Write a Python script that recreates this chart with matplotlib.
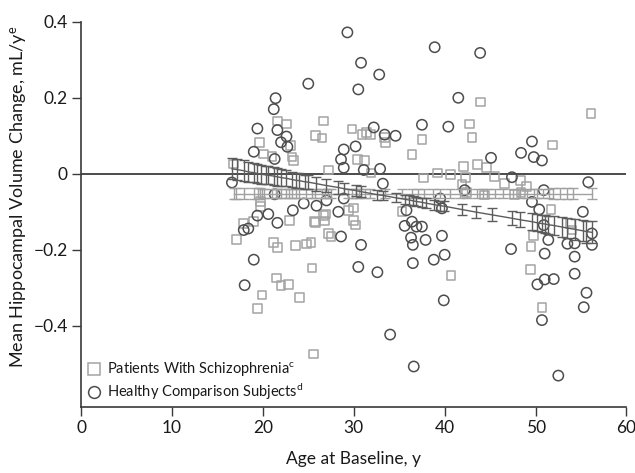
import matplotlib
matplotlib.use('Agg')
import matplotlib.pyplot as plt
from matplotlib.lines import Line2D

plt.rcParams['font.family'] = ['Lato', 'DejaVu Sans']
plt.rcParams['mathtext.fontset'] = 'custom'
plt.rcParams['mathtext.rm'] = 'Lato'
plt.rcParams['mathtext.it'] = 'Lato:italic'

# patients with schizophrenia (squares)
pat_age = [26.7, 21.6, 22.6, 29.8, 25.8, 26.5, 30.9, 31.4, 31.8, 33.4, 33.5, 19.6, 23.0,
           20.1, 23.2, 23.4, 21.0, 36.4, 30.4, 31.2, 27.2, 31.9, 16.8, 37.5,
           43.9, 56.1, 42.7, 43.0, 51.9, 42.1, 43.6, 44.6, 39.2, 40.6, 37.7, 42.3, 45.5,
           46.6, 48.3, 49.0, 41.9, 44.4, 42.4, 47.7, 48.4, 35.3, 51.7,
           17.1, 17.9, 19.0, 22.9, 25.7, 26.8, 26.9, 27.2, 27.5, 29.4, 30.0, 30.0, 30.2,
           21.2, 21.6, 23.6, 24.8, 25.3, 25.4, 21.5, 22.0, 22.8, 19.9, 24.0, 19.4, 25.6,
           19.7, 19.7, 26.7, 25.8,
           40.7, 49.4, 49.5, 49.8, 50.7, 53.8, 54.0]
pat_change = [0.139, 0.139, 0.131, 0.118, 0.100, 0.094, 0.103, 0.109, 0.104, 0.096, 0.083, 0.083, 0.074,
              0.052, 0.044, 0.035, 0.045, 0.050, 0.037, 0.035, 0.010, 0.002, 0.026, 0.090,
              0.189, 0.159, 0.131, 0.096, 0.076, 0.020, 0.025, 0.016, 0.002, -0.002, -0.011, -0.009, -0.007,
              -0.026, -0.017, -0.034, -0.029, -0.056, -0.050, -0.055, -0.050, -0.100, -0.093,
              -0.173, -0.130, -0.125, -0.123, -0.126, -0.124, -0.106, -0.158, -0.165, -0.096, -0.090, -0.122, -0.135,
              -0.181, -0.193, -0.189, -0.185, -0.181, -0.248, -0.274, -0.294, -0.291, -0.319, -0.326, -0.355, -0.474,
              -0.072, -0.087, -0.109, -0.129,
              -0.267, -0.251, -0.191, -0.162, -0.352, -0.130, -0.148]

# healthy comparison subjects (circles)
hc_age = [29.3, 30.8, 32.8, 25.0, 30.5, 21.4, 21.2, 19.4, 21.6, 32.2, 22.6, 22.0, 22.7, 30.2,
          33.4, 34.6, 37.5, 19.0, 28.9, 28.6, 21.3, 28.9, 31.1, 32.9, 16.6, 33.2,
          38.9, 43.9, 41.5, 40.4, 45.1, 49.6, 48.4, 49.8, 50.7, 47.4, 55.8, 42.2, 50.9, 39.5,
          19.4, 20.6, 21.6, 17.9, 18.4, 23.3, 24.5, 25.9, 27.0, 28.3, 28.9, 28.6, 30.8, 19.0,
          30.5, 32.6, 18.0, 34.0, 36.6, 35.8, 36.4, 35.6, 36.3, 36.5, 36.5, 36.9, 21.3,
          37.5, 37.9, 39.7, 40.0, 38.8, 39.9, 47.3, 51.0, 51.4, 50.2, 51.0, 52.0, 50.7, 52.5,
          54.3, 54.3, 55.6, 55.3, 55.2, 56.2, 56.2, 53.5, 54.3, 49.6, 50.4, 50.9, 39.7]
hc_change = [0.372, 0.292, 0.261, 0.237, 0.222, 0.199, 0.170, 0.119, 0.115, 0.122, 0.098, 0.083, 0.071, 0.072,
             0.103, 0.100, 0.129, 0.058, 0.064, 0.038, 0.039, 0.016, 0.010, 0.013, -0.023, -0.026,
             0.333, 0.318, 0.200, 0.124, 0.042, 0.085, 0.055, 0.044, 0.035, -0.009, -0.022, -0.043, -0.043, -0.065,
             -0.110, -0.106, -0.129, -0.148, -0.144, -0.096, -0.078, -0.084, -0.070, -0.100, -0.065, -0.165, -0.187, -0.226,
             -0.245, -0.259, -0.293, -0.423, -0.507, -0.096, -0.126, -0.137, -0.168, -0.187, -0.235, -0.139, -0.054,
             -0.139, -0.174, -0.163, -0.213, -0.226, -0.333, -0.198, -0.210, -0.174, -0.291, -0.278, -0.277, -0.385, -0.531,
             -0.218, -0.263, -0.313, -0.351, -0.100, -0.157, -0.187, -0.184, -0.183, -0.074, -0.094, -0.135, -0.091]

# fitted mean change with error bars, patients
pat_fit_age = [16.8, 17.1, 17.9, 19.0, 19.5, 19.7, 19.9, 20.1, 21.0, 21.5, 21.6, 22.0, 22.6, 22.9,
               23.2, 23.6, 24.0, 24.8, 25.4, 25.7, 26.5, 26.8, 27.2, 27.5, 29.4, 29.8, 30.2, 30.6,
               31.2, 31.8, 33.4, 35.3, 36.4, 37.1, 37.7, 38.7, 39.5, 40.6, 41.7, 42.5, 43.6, 44.2,
               44.7, 45.5, 46.4, 47.5, 48.3, 49.1, 49.8, 50.2, 50.8, 51.5, 51.9, 52.7, 53.5, 54.1, 56.2]
pat_fit = [-0.052, -0.052, -0.052, -0.052, -0.052, -0.052, -0.052, -0.052, -0.052, -0.052,
           -0.052, -0.052, -0.052, -0.052, -0.052, -0.052, -0.052, -0.052, -0.052, -0.052,
           -0.052, -0.052, -0.052, -0.052, -0.052, -0.052, -0.052, -0.052, -0.052, -0.052,
           -0.052, -0.052, -0.052, -0.052, -0.052, -0.052, -0.052, -0.052, -0.052, -0.052,
           -0.052, -0.052, -0.052, -0.052, -0.052, -0.052, -0.052, -0.052, -0.052, -0.052,
           -0.052, -0.052, -0.052, -0.052, -0.052, -0.052, -0.052]
pat_fit_err = [0.014, 0.014, 0.014, 0.014, 0.014, 0.014, 0.013, 0.013, 0.013, 0.013,
               0.013, 0.013, 0.013, 0.013, 0.013, 0.013, 0.013, 0.013, 0.013, 0.013,
               0.013, 0.013, 0.013, 0.013, 0.013, 0.013, 0.013, 0.013, 0.013, 0.013,
               0.013, 0.013, 0.013, 0.013, 0.013, 0.013, 0.013, 0.013, 0.013, 0.013,
               0.013, 0.013, 0.013, 0.013, 0.013, 0.013, 0.013, 0.013, 0.013, 0.013,
               0.013, 0.013, 0.014, 0.014, 0.014, 0.014, 0.014]

# fitted mean change with error bars, healthy subjects
hc_fit_age = [16.6, 17.2, 17.9, 18.4, 19.0, 19.4, 19.8, 20.3, 20.6, 21.2, 21.6, 22.0, 22.6, 23.2,
              23.6, 24.0, 24.6, 25.0, 25.9, 27.0, 28.3, 28.9, 30.2, 30.8, 32.6, 33.2, 34.6, 35.6,
              36.1, 36.5, 36.9, 37.5, 37.9, 38.8, 39.5, 39.9, 41.9, 43.5, 45.2, 47.4, 48.3, 49.6,
              50.2, 50.7, 51.0, 51.4, 52.0, 52.9, 53.5, 54.3, 55.2, 55.6, 56.2]
hc_fit = [0.013, 0.011, 0.008, 0.005, 0.003, 0.001, -0.001, -0.003, -0.004, -0.006, -0.008, -0.010, -0.012, -0.015,
          -0.017, -0.018, -0.021, -0.022, -0.026, -0.031, -0.036, -0.039, -0.044, -0.047, -0.055, -0.057, -0.063, -0.067,
          -0.069, -0.071, -0.073, -0.075, -0.077, -0.081, -0.084, -0.085, -0.094, -0.101, -0.108, -0.117, -0.121, -0.126,
          -0.129, -0.131, -0.132, -0.134, -0.136, -0.140, -0.143, -0.146, -0.150, -0.152, -0.154]
hc_fit_err = [0.028, 0.028, 0.027, 0.026, 0.025, 0.025, 0.025, 0.024, 0.024, 0.023, 0.023, 0.022, 0.021, 0.021,
              0.020, 0.020, 0.019, 0.019, 0.018, 0.017, 0.016, 0.015, 0.014, 0.014, 0.013, 0.013, 0.012, 0.012,
              0.012, 0.012, 0.012, 0.012, 0.012, 0.013, 0.013, 0.013, 0.014, 0.016, 0.017, 0.019, 0.020, 0.022,
              0.022, 0.023, 0.023, 0.024, 0.024, 0.025, 0.026, 0.027, 0.028, 0.029, 0.029]

pat_color = '#a3a3a3'
hc_color = '#4d4d4d'
bar_pat_color = '#a0a0a0'
bar_hc_color = '#5c5c5c'

fig = plt.figure(figsize=(6.35, 4.73), dpi=100)
ax = fig.add_axes([0.1276, 0.140, 0.859, 0.814])

ax.scatter(pat_age, pat_change, marker='s', s=40, facecolors='none',
           edgecolors=pat_color, linewidths=1.1, zorder=3)
ax.scatter(hc_age, hc_change, marker='o', s=55, facecolors='none',
           edgecolors=hc_color, linewidths=1.1, zorder=3)

ax.axhline(0, color='#1a1a1a', lw=1.1, zorder=2)

ax.errorbar(pat_fit_age, pat_fit, yerr=pat_fit_err, fmt='-', color=bar_pat_color,
            lw=1.0, elinewidth=1.0, capsize=3.6, capthick=1.0, zorder=4)
ax.errorbar(hc_fit_age, hc_fit, yerr=hc_fit_err, fmt='-', color=bar_hc_color,
            lw=1.0, elinewidth=1.0, capsize=3.6, capthick=1.0, zorder=5)

ax.set_xlim(0, 60)
ax.set_ylim(-0.613, 0.4)
ax.set_xticks([0, 10, 20, 30, 40, 50, 60])
ax.set_yticks([-0.4, -0.2, 0, 0.2, 0.4])
ax.set_yticklabels(['\u22120.4', '\u22120.2', '0', '0.2', '0.4'])

for side in ['top', 'right']:
    ax.spines[side].set_visible(False)
for side in ['left', 'bottom']:
    ax.spines[side].set_color('#3a3a3a')
    ax.spines[side].set_linewidth(1.2)
ax.tick_params(axis='both', direction='out', length=6.5, width=1.0, color='#3a3a3a',
               labelsize=12.5, labelcolor='#1a1a1a', pad=3)

ax.set_xlabel('Age at Baseline, y', fontsize=12.5, color='#1a1a1a', labelpad=11)
ax.set_ylabel('Mean Hippocampal Volume Change, mL/y$^{\\mathrm{e}}$', fontsize=13,
              color='#1a1a1a')
ax.yaxis.set_label_coords(-0.095, 0.545)

handles = [
    Line2D([], [], marker='s', ls='none', markersize=8, markerfacecolor='none',
           markeredgecolor=pat_color, markeredgewidth=1.1),
    Line2D([], [], marker='o', ls='none', markersize=8.5, markerfacecolor='none',
           markeredgecolor=hc_color, markeredgewidth=1.1),
]
labels = ['Patients With Schizophrenia$^{\\mathrm{c}}$',
          'Healthy Comparison Subjects$^{\\mathrm{d}}$']
leg = ax.legend(handles, labels, loc='lower left', bbox_to_anchor=(-0.005, -0.01),
                frameon=False, fontsize=10.5, handlelength=0.9, handletextpad=0.5,
                labelspacing=0.15, borderaxespad=0.2)
for t in leg.get_texts():
    t.set_color('#1a1a1a')

fig.savefig('out.png', dpi=100)
